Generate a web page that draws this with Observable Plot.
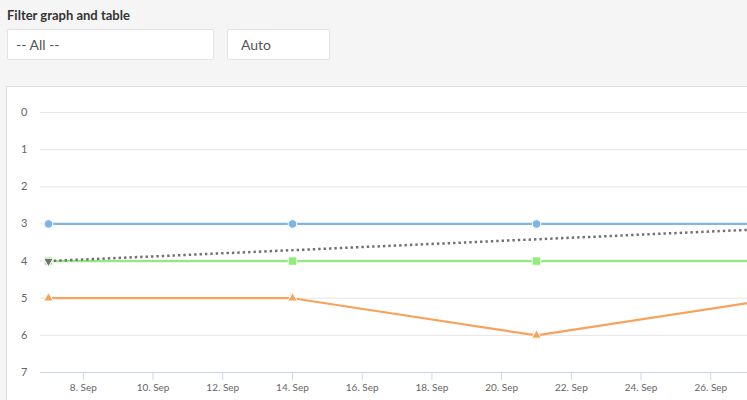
<!DOCTYPE html>
<html>
<head>
<meta charset="utf-8">
<script src="https://cdn.jsdelivr.net/npm/d3@7"></script>
<script src="https://cdn.jsdelivr.net/npm/@observablehq/plot@0.6"></script>
<style>
  html, body { margin: 0; padding: 0; width: 747px; height: 400px; overflow: hidden; background: #f5f5f5; font-family: Lato, "Open Sans", sans-serif; }
  #title { position: absolute; left: 7px; top: 7px; font-size: 13px; font-weight: bold; color: #333; }
  .box { position: absolute; top: 29px; height: 31px; background: #fff; border: 1px solid #e3e3e3; border-radius: 2px; box-sizing: border-box; font-size: 14px; color: #555; line-height: 30px; padding-left: 8px; }
  #panel { position: absolute; left: 6px; top: 86px; width: 900px; height: 400px; background: #fff; border: 1px solid #dcdce0; box-sizing: border-box; }
  #chart { position: absolute; left: 0; top: 87px; width: 798px; }
  #chart svg { max-width: none !important; }
</style>
</head>
<body>
<div id="title">Filter graph and table</div>
<div class="box" style="left:7px;width:207px;">-- All --</div>
<div class="box" style="left:227px;width:103px;padding-left:13px;">Auto</div>
<div id="panel"></div>
<div id="chart"></div>
<script>
const dates = ["2023-09-07", "2023-09-14", "2023-09-21", "2023-09-28"];
const seriesA = [3, 3, 3, 3];
const seriesB = [4, 4, 4, 4];
const seriesC = [5, 5, 6, 5];
const trendDates = ["2023-09-07", "2023-09-28"];
const trendValues = [4, 3.12];
const yTicks = [0, 1, 2, 3, 4, 5, 6, 7];
const xTickDates = ["2023-09-08","2023-09-10","2023-09-12","2023-09-14","2023-09-16","2023-09-18","2023-09-20","2023-09-22","2023-09-24","2023-09-26"];

const parse = d3.utcParse("%Y-%m-%d");
const mk = (vals) => dates.map((d, i) => ({date: parse(d), value: vals[i]}));
const A = mk(seriesA), B = mk(seriesB), C = mk(seriesC);
const T = trendDates.map((d, i) => ({date: parse(d), value: trendValues[i]}));
const xt = xTickDates.map(parse);
const pad = 0.229 * 864e5;
const x0 = new Date(parse(dates[0]).getTime() - pad);
const x1 = new Date(parse(dates[dates.length - 1]).getTime() + pad);

const blue = "#7cb5ec", green = "#90ed7d", orange = "#f7a35c", gray = "#707070";

const chart = Plot.plot({
  width: 798,
  height: 315,
  marginLeft: 40,
  marginRight: 10,
  marginTop: 25,
  marginBottom: 30,
  style: {fontFamily: "Lato, 'Open Sans', sans-serif", background: "transparent", overflow: "visible", maxWidth: "none"},
  x: {type: "utc", domain: [x0, x1], label: null},
  y: {domain: [0, 7], reverse: true, label: null},
  marks: [
    Plot.gridY(yTicks.slice(0, -1), {stroke: "#e6e6e6", strokeOpacity: 1}),
    Plot.axisY(yTicks, {tickSize: 0, tickPadding: 13, fontSize: 11, fill: "#666", tickFormat: d3.format("d"), label: null}),
    Plot.ruleY([7], {stroke: "#ccd6eb"}),
    Plot.axisX(xt, {tickSize: 8, tickPadding: 3, stroke: "#ccd6eb", fontSize: 10, fill: "#666", tickFormat: d3.utcFormat("%-d. %b"), label: null}),
    Plot.line(A, {x: "date", y: "value", stroke: blue, strokeWidth: 2.2}),
    Plot.dot(A, {x: "date", y: "value", symbol: "circle", r: 4.3, fill: blue, stroke: "#fff", strokeWidth: 1}),
    Plot.line(B, {x: "date", y: "value", stroke: green, strokeWidth: 2.2}),
    Plot.dot(B, {x: "date", y: "value", symbol: "square", r: 4.8, fill: green, stroke: "#fff", strokeWidth: 1}),
    Plot.line(C, {x: "date", y: "value", stroke: orange, strokeWidth: 2.2}),
    Plot.dot(C, {x: "date", y: "value", symbol: "triangle", r: 3.6, fill: orange, stroke: "#fff", strokeWidth: 1}),
    Plot.line(T, {x: "date", y: "value", stroke: gray, strokeWidth: 2.5, strokeDasharray: "2.4,3", strokeLinecap: "butt"}),
    Plot.dot(T.slice(0, 1), {x: "date", y: "value", symbol: "triangle", rotate: 180, r: 3.6, fill: gray, stroke: "#fff", strokeWidth: 1})
  ]
});
document.getElementById("chart").appendChild(chart);
</script>
</body>
</html>
